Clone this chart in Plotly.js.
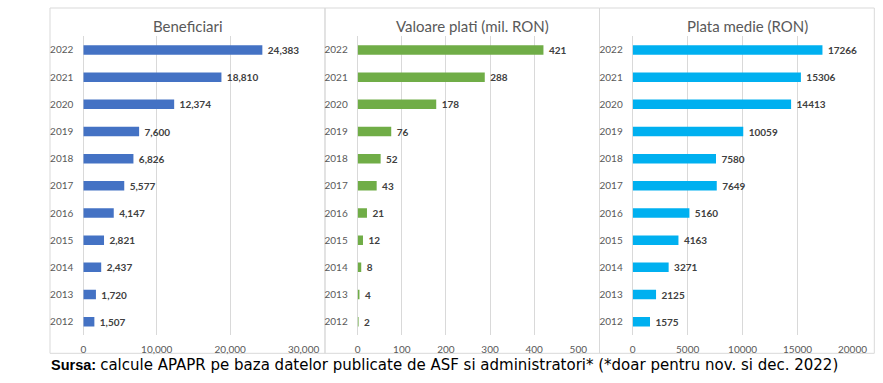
<!DOCTYPE html>
<html>
<head>
<meta charset="utf-8">
<script src="https://cdn.plot.ly/plotly-3.0.1.min.js"></script>
<style>html,body{margin:0;padding:0;background:#fff;}#chart{width:883px;height:383px;}</style>
</head>
<body>
<div id="chart"></div>
<script>
const years = ["2012","2013","2014","2015","2016","2017","2018","2019","2020","2021","2022"];
const beneficiari = [1507,1720,2437,2821,4147,5577,6826,7600,12374,18810,24383];
const valoarePlati = [2,4,8,12,21,43,52,76,178,288,421];
const plataMedie = [1575,2125,3271,4163,5160,7649,7580,10059,14413,15306,17266];
const panelTitles = ["Beneficiari","Valoare plati (mil. RON)","Plata medie (RON)"];
const sourceBold = "Sursa:";
const sourceRest = "calcule APAPR pe baza datelor publicate de ASF si administratori* (*doar pentru nov. si dec. 2022)";

const W = 883, H = 383;
const px = v => v / W;
const py = v => (H - v) / H;

const FONT = "Lato, 'Open Sans', sans-serif";
const tickFont = {family: FONT, size: 10, color: "#595959"};
const labelFont = {family: FONT, size: 10, color: "#404040", weight: "bold"};

function barTrace(vals, color, xa, ya, tmpl) {
  return {
    type: "bar", orientation: "h",
    y: years, x: vals,
    xaxis: xa, yaxis: ya,
    marker: {color: color},
    width: 0.35,
    texttemplate: tmpl,
    textposition: "outside",
    textangle: 0,
    constraintext: "none",
    cliponaxis: false,
    textfont: labelFont,
    hoverinfo: "skip"
  };
}

const NB = "\u00a0";
const data = [
  barTrace(beneficiari, "#4472C4", "x", "y", NB + "%{x:,d}"),
  barTrace(valoarePlati, "#70AD47", "x2", "y2", NB + "%{x}"),
  barTrace(plataMedie, "#00B0F0", "x3", "y3", NB + "%{x:d}")
];

const yDomain = [py(335.3), py(36.4)];
function xAxis(dom, range, dtick, fmt, anchor) {
  return {
    domain: dom, range: range, dtick: dtick, tick0: 0, tickformat: fmt,
    anchor: anchor,
    showgrid: true, gridcolor: "#d9d9d9", gridwidth: 1,
    zeroline: true, zerolinecolor: "#d9d9d9", zerolinewidth: 1,
    showline: false,
    ticks: "outside", ticklen: 5, tickcolor: "rgba(0,0,0,0)",
    tickfont: tickFont, fixedrange: true
  };
}
function yAxis(anchor) {
  return {
    domain: yDomain, anchor: anchor,
    type: "category", categoryorder: "array", categoryarray: years,
    showgrid: false, zeroline: false, showline: false,
    ticks: "outside", ticklen: 7, tickcolor: "rgba(0,0,0,0)",
    tickfont: tickFont, fixedrange: true
  };
}

const borderColor = "#d9d9d9";
function rectShape(x0, x1) {
  return {type: "rect", xref: "paper", yref: "paper",
    x0: px(x0), x1: px(x1), y0: py(353.3), y1: py(8),
    line: {color: borderColor, width: 1}, fillcolor: "rgba(0,0,0,0)", layer: "below"};
}

const titleFont = {family: FONT, size: 15, color: "#595959"};
const titleX = [188, 472, 747];

const sourceHtml = "<b>" + sourceBold + "</b> <span style=\"font-family:'DejaVu Sans';font-size:15px\">" + sourceRest + "</span>";

const layout = {
  width: W, height: H,
  margin: {l: 0, r: 0, t: 0, b: 0},
  paper_bgcolor: "#ffffff", plot_bgcolor: "rgba(0,0,0,0)",
  showlegend: false,
  xaxis: xAxis([px(83.3), px(303.6)], [0, 30000], 10000, ",d", "y"),
  yaxis: yAxis("x"),
  xaxis2: xAxis([px(357.7), px(578.3)], [0, 500], 100, "d", "y2"),
  yaxis2: yAxis("x2"),
  xaxis3: xAxis([px(632.7), px(852.5)], [0, 20000], 5000, "d", "y3"),
  yaxis3: yAxis("x3"),
  shapes: [rectShape(50, 325), rectShape(325, 599.5), rectShape(599.5, 874.3)],
  annotations: panelTitles.map((t, i) => ({
    text: t, xref: "paper", yref: "paper",
    x: px(titleX[i]), y: py(26), xanchor: "center", yanchor: "middle",
    showarrow: false, font: titleFont
  })).concat([{
    text: sourceHtml, xref: "paper", yref: "paper",
    x: px(49), y: py(365), xanchor: "left", yanchor: "middle",
    showarrow: false,
    font: {family: "'Liberation Sans', Arial, sans-serif", size: 14.5, color: "#000000"}
  }])
};

Plotly.newPlot("chart", data, layout, {displayModeBar: false, staticPlot: true});
</script>
</body>
</html>
